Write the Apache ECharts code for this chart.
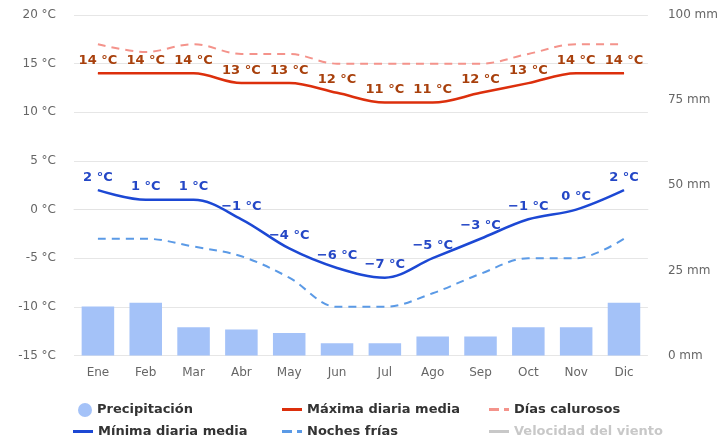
<!DOCTYPE html>
<html>
<head>
<meta charset="utf-8">
<script src="https://cdn.jsdelivr.net/npm/echarts@6/dist/echarts.min.js"></script>
<style>html,body{margin:0;padding:0;background:#fff;}#c{width:721px;height:442px;}</style>
</head>
<body>
<div id="c"></div>
<script>
var months = ['Ene','Feb','Mar','Abr','May','Jun','Jul','Ago','Sep','Oct','Nov','Dic'];
var precipitacion = [14.4, 15.5, 8.3, 7.6, 6.6, 3.6, 3.6, 5.6, 5.6, 8.3, 8.3, 15.5];
var maxima = [14, 14, 14, 13, 13, 12, 11, 11, 12, 13, 14, 14];
var minima = [2, 1, 1, -1, -4, -6, -7, -5, -3, -1, 0, 2];
var diasCalurosos = [17, 16.2, 17, 16, 16, 15, 15, 15, 15, 16, 17, 17];
var nochesFrias = [-3, -3, -3.8, -4.8, -7, -10, -10, -8.6, -6.6, -5, -5, -3];
var velocidadViento = [];
var tempTicks = [-15, 20, 5];
var mmTicks = [0, 100, 25];

var font = 'DejaVu Sans';
var chart = echarts.init(document.getElementById('c'), null, {renderer: 'canvas'});
var legendText = {fontFamily: font, fontSize: 13, fontWeight: 'bold', color: '#333'};
var solidIcon = 'path://M0,0H20V3H0Z';
var dashIcon = 'path://M0,0H10V3H0Z M15,0H20V3H15Z';
function lg(name, left, top, icon, w, h, extra) {
  var o = {orient: 'horizontal', left: left, top: top, itemWidth: w, itemHeight: h, itemGap: 0,
    padding: 0, textStyle: legendText, inactiveColor: '#c8c8c8',
    data: [{name: name, icon: icon}]};
  if (extra) for (var k in extra) o[k] = extra[k];
  return o;
}
chart.setOption({
  animation: false,
  backgroundColor: '#fff',
  grid: {left: 74, right: 64.5, top: 15, bottom: 86.5},
  legend: [
    lg('Precipitación', 78, 403, 'circle', 14, 14),
    lg('Mínima diaria media', 73, 425, solidIcon, 20, 3),
    lg('Máxima diaria media', 282, 403, solidIcon, 20, 3),
    lg('Noches frías', 282, 425, dashIcon, 20, 3),
    lg('Días calurosos', 489, 403, dashIcon, 20, 3),
    lg('Velocidad del viento', 489, 425, solidIcon, 20, 3, {selected: {'Velocidad del viento': false}})
  ],
  xAxis: {
    type: 'category', data: months, boundaryGap: true,
    axisLine: {show: true, lineStyle: {color: '#e3e3e3'}},
    axisTick: {show: false},
    axisLabel: {color: '#666', fontFamily: font, fontSize: 12, margin: 11}
  },
  yAxis: [
    {type: 'value', min: tempTicks[0], max: tempTicks[1], interval: tempTicks[2],
     axisLine: {show: false}, axisTick: {show: false},
     splitLine: {lineStyle: {color: '#e6e6e6'}},
     axisLabel: {color: '#666', fontFamily: font, fontSize: 12, margin: 18, formatter: '{value} °C'}},
    {type: 'value', min: mmTicks[0], max: mmTicks[1], interval: mmTicks[2],
     axisLine: {show: false}, axisTick: {show: false}, splitLine: {show: false},
     axisLabel: {color: '#666', fontFamily: font, fontSize: 12, margin: 20, formatter: '{value} mm'}}
  ],
  series: [
    {name: 'Precipitación', type: 'bar', yAxisIndex: 1, data: precipitacion,
     barCategoryGap: '32%', itemStyle: {color: '#a4c2f8'}},
    {name: 'Máxima diaria media', type: 'line', data: maxima, smooth: 0.35,
     symbol: 'circle', symbolSize: 0.5, showSymbol: true, z: 5, color: '#dc2f0c',
     lineStyle: {width: 2.5, color: '#dc2f0c'},
     label: {show: true, position: 'top', distance: 6, formatter: '{c} °C', color: '#a8400c',
       fontFamily: font, fontSize: 13, fontWeight: 'bold'}},
    {name: 'Mínima diaria media', type: 'line', data: minima, smooth: 0.35,
     symbol: 'circle', symbolSize: 0.5, showSymbol: true, z: 5, color: '#1c48d4',
     lineStyle: {width: 2.5, color: '#1c48d4'},
     label: {show: true, position: 'top', distance: 6,
       formatter: function(p){ return (p.value < 0 ? '\u2212' + (-p.value) : p.value) + ' °C'; },
       color: '#2447c6', fontFamily: font, fontSize: 13, fontWeight: 'bold'}},
    {name: 'Días calurosos', type: 'line', data: diasCalurosos, smooth: 0.35,
     symbol: 'none', z: 4, color: '#f4938b', lineStyle: {width: 2, color: '#f4938b', type: [8, 6]}},
    {name: 'Noches frías', type: 'line', data: nochesFrias, smooth: 0.35,
     symbol: 'none', z: 4, color: '#5b9ae6', lineStyle: {width: 2, color: '#5b9ae6', type: [8, 6]}},
    {name: 'Velocidad del viento', type: 'line', data: velocidadViento, symbol: 'none',
     color: '#bbb', lineStyle: {width: 2, color: '#bbb'}}
  ]
});
</script>
</body>
</html>
